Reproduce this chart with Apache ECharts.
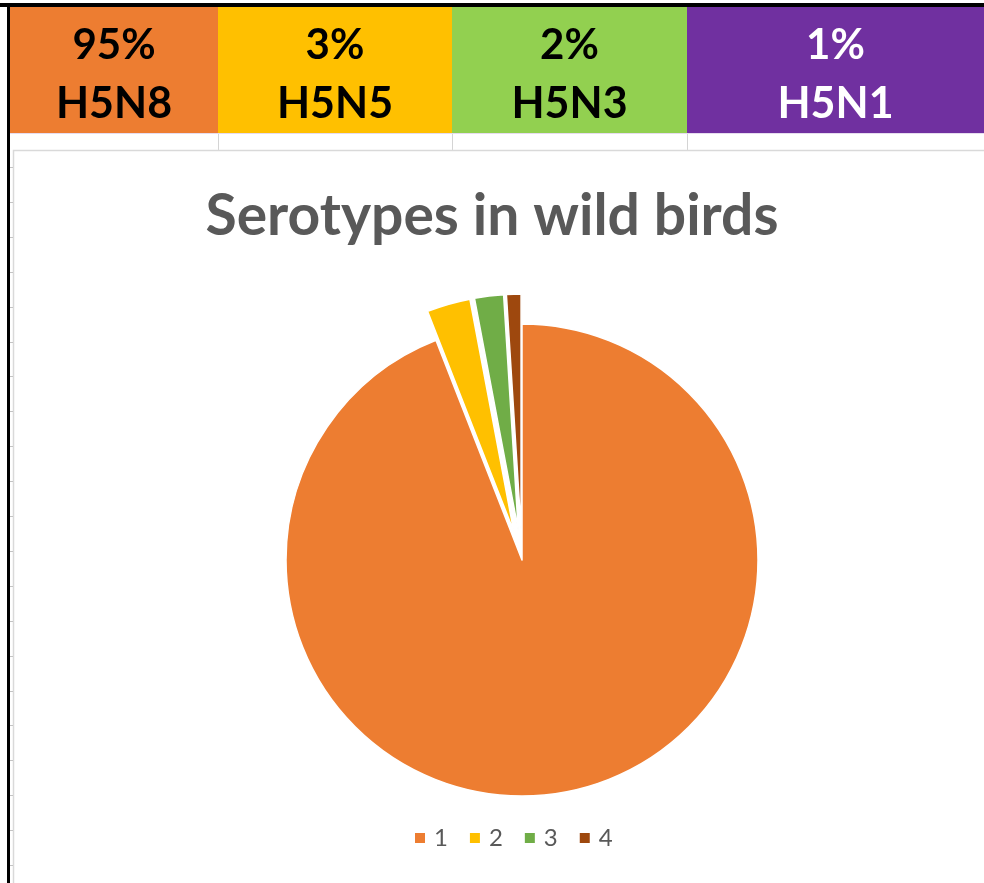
<!DOCTYPE html>
<html>
<head>
<meta charset="utf-8">
<script src="https://cdn.jsdelivr.net/npm/echarts@6/dist/echarts.min.js"></script>
<style>
html,body{margin:0;padding:0;background:#fff;}
#chart{width:984px;height:883px;}
</style>
</head>
<body>
<div id="chart"></div>
<script>
// ---- data ----
var categories = ['1', '2', '3', '4'];
var values = [95, 3, 2, 1];
var exploded = [false, true, true, true];
var headerPct = ['95%', '3%', '2%', '1%'];
var headerNames = ['H5N8', 'H5N5', 'H5N3', 'H5N1'];
var titleText = 'Serotypes in wild birds';

// ---- styles ----
var sliceColors = ['#ED7D31', '#FFC000', '#70AD47', '#9E480E'];
var headerColors = ['#ED7D31', '#FFC000', '#92D050', '#7030A0'];
var headerTextColors = ['#000', '#000', '#000', '#fff'];
var headerX = [10, 218, 452, 687, 984];
var FONT = 'Lato, "Open Sans", sans-serif';

var graphics = [];
// header cells
for (var i = 0; i < headerPct.length; i++) {
  var x0 = headerX[i], x1 = headerX[i + 1];
  graphics.push({type: 'rect', shape: {x: x0, y: 7, width: x1 - x0, height: 126},
    style: {fill: headerColors[i]}, silent: true});
  graphics.push({type: 'text', x: (x0 + x1) / 2, y: 45, silent: true,
    style: {text: headerPct[i], fill: headerTextColors[i], font: 'bold 42px ' + FONT,
      textAlign: 'center', textVerticalAlign: 'middle'}});
  graphics.push({type: 'text', x: (x0 + x1) / 2, y: 104, silent: true,
    style: {text: headerNames[i], fill: headerTextColors[i], font: 'bold 43px ' + FONT,
      textAlign: 'center', textVerticalAlign: 'middle'}});
  if (i > 0) {
    graphics.push({type: 'line', shape: {x1: x0 + 0.5, y1: 133, x2: x0 + 0.5, y2: 150},
      style: {stroke: '#d4d4d4', lineWidth: 1}, silent: true});
  }
}
// thin line below header
graphics.push({type: 'line', shape: {x1: 10, y1: 133.5, x2: 984, y2: 133.5},
  style: {stroke: '#e6dcef', lineWidth: 1}, silent: true});
// chart area border
graphics.push({type: 'rect', shape: {x: 13.5, y: 150.5, width: 990, height: 760},
  style: {fill: 'none', stroke: '#d9d9d9', lineWidth: 1.5}, silent: true});
// black frame
graphics.push({type: 'line', shape: {x1: 0, y1: 5, x2: 984, y2: 5},
  style: {stroke: '#000', lineWidth: 4}, silent: true});
graphics.push({type: 'line', shape: {x1: 8.5, y1: 3, x2: 8.5, y2: 883},
  style: {stroke: '#000', lineWidth: 3}, silent: true});
// left row tick marks
for (var k = 0; k < 21; k++) {
  var yy = Math.round(167 + k * 34.9) + 0.5;
  graphics.push({type: 'line', shape: {x1: 10, y1: yy, x2: 13, y2: yy},
    style: {stroke: '#c4c4c4', lineWidth: 1}, silent: true});
}

var pieData = categories.map(function (c, i) {
  return {name: c, value: values[i], selected: exploded[i],
    itemStyle: {color: sliceColors[i]}};
});

var chart = echarts.init(document.getElementById('chart'), null, {renderer: 'canvas'});
chart.setOption({
  backgroundColor: '#fff',
  animation: false,
  title: {
    text: titleText,
    left: 487, top: 183,
    textAlign: 'center',
    textStyle: {fontFamily: FONT, fontWeight: 'bold', fontSize: 57, color: '#595959'}
  },
  legend: {
    data: categories,
    left: 408, top: 821,
    icon: 'rect',
    itemWidth: 12, itemHeight: 12,
    itemGap: 20,
    selectedMode: false,
    textStyle: {fontFamily: FONT, fontSize: 24, color: '#595959', padding: [0, 0, 0, 3]}
  },
  series: [{
    type: 'pie',
    center: [522, 560],
    radius: 236,
    startAngle: 90,
    clockwise: true,
    selectedMode: 'multiple',
    selectedOffset: 30,
    label: {show: false},
    labelLine: {show: false},
    emphasis: {disabled: true},
    itemStyle: {borderColor: '#fff', borderWidth: 1.5},
    data: pieData
  }],
  graphic: graphics
});
</script>
</body>
</html>
